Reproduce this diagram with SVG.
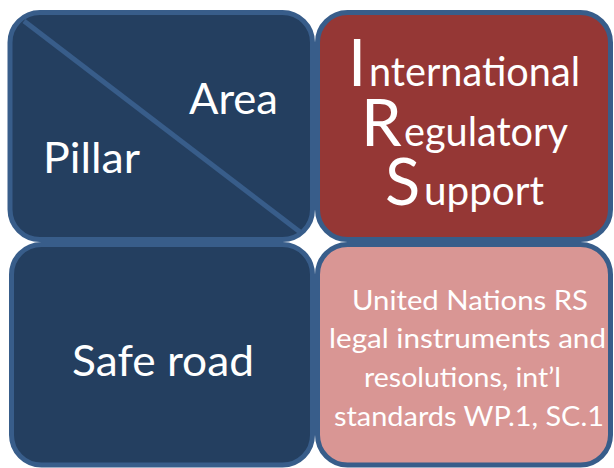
<svg xmlns="http://www.w3.org/2000/svg" width="614" height="468" viewBox="0 0 614 468">
<style>
.box{stroke:#385D8A;stroke-width:5}
.dark{fill:#243F60}
.red{fill:#953735}
.pink{fill:#D99694}
text{font-family:Lato,"Open Sans","Liberation Sans",sans-serif;fill:#FFFFFF;font-weight:400}
.lbl{font-size:42px}
.big{font-size:65px}
.sm{font-size:41px}
.body{font-size:26px}
</style>
<rect width="614" height="468" fill="#FFFFFF"/>
<g id="node-pillar-area">
<rect class="box dark" x="10" y="12.5" width="302.5" height="227" rx="30" ry="30"/>
<text class="lbl" x="189" y="114" textLength="89" lengthAdjust="spacingAndGlyphs">Area</text>
<text class="lbl" x="43" y="173" textLength="97" lengthAdjust="spacingAndGlyphs">Pillar</text>
</g>
<g id="node-irs">
<rect class="box red" x="317.5" y="12.5" width="293" height="227" rx="30" ry="30"/>
<text x="348" y="86"><tspan class="big">I</tspan><tspan class="sm" x="369" textLength="211" lengthAdjust="spacingAndGlyphs">nternational</tspan></text>
<text x="361" y="146"><tspan class="big">R</tspan><tspan class="sm" x="404" textLength="164" lengthAdjust="spacingAndGlyphs">egulatory</tspan></text>
<text x="385" y="205"><tspan class="big">S</tspan><tspan class="sm" x="424" textLength="120" lengthAdjust="spacingAndGlyphs">upport</tspan></text>
</g>
<g id="node-safe-road">
<rect class="box dark" x="11.5" y="244.5" width="301" height="220.5" rx="30" ry="30"/>
<text class="lbl" x="72" y="376" textLength="182" lengthAdjust="spacingAndGlyphs">Safe road</text>
</g>
<g id="node-un-rs">
<rect class="box pink" x="317.5" y="244.5" width="293" height="220.5" rx="30" ry="30"/>
<text class="body" x="352" y="309.5" textLength="236" lengthAdjust="spacingAndGlyphs">United Nations RS</text>
<text class="body" x="329" y="348.3" textLength="277" lengthAdjust="spacingAndGlyphs">legal instruments and</text>
<text class="body" x="364" y="387" textLength="197" lengthAdjust="spacingAndGlyphs">resolutions, int’l</text>
<text class="body" x="334" y="426" textLength="270" lengthAdjust="spacingAndGlyphs">standards WP.1, SC.1</text>
</g>
<g id="connectors">
<line x1="24" y1="21" x2="300" y2="232" stroke="#385D8A" stroke-width="5"/>
</g>
</svg>
